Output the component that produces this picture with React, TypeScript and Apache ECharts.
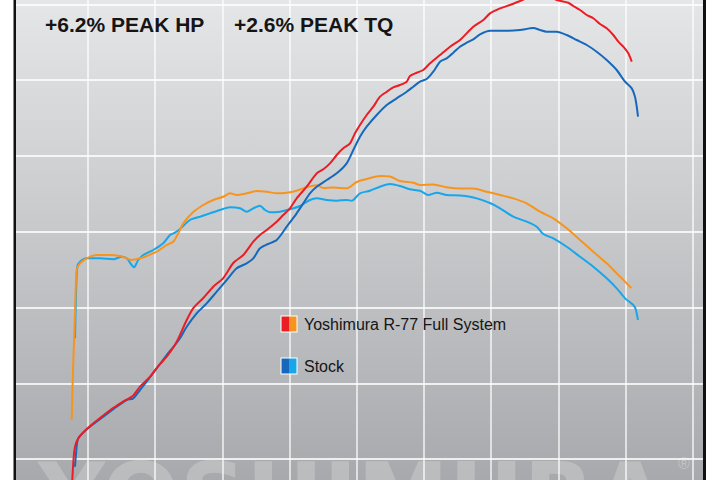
import React, { useEffect, useRef } from "react";
import * as echarts from "echarts";

// ---- data (x: engine rpm, y: output on a common dyno scale) ----
const yoshiHpRpm = [2762, 2784, 2807, 2856, 2981, 3179, 3372, 3521, 3670, 3774, 3923, 4022, 4171, 4320, 4469, 4567, 4716, 4864, 5013, 5162, 5311, 5460, 5559, 5659, 5808, 5906, 6006, 6105, 6254, 6403, 6501, 6601, 6701, 6799, 6899, 6973, 7047, 7147, 7245, 7345, 7445, 7543, 7643, 7742, 7791, 7891, 7989, 8089, 8238, 8387, 8535, 8733, 8882, 8982, 9131, 9279, 9428, 9577, 9726, 9875, 9974, 10147, 10221, 10321, 10421, 10519, 10619, 10718, 10816, 10891, 10965, 11040, 11091];
const yoshiHp = [-7.13, -0.26, 3.25, 5.46, 7.92, 10.82, 13.46, 15.13, 16.71, 19.09, 21.73, 24.02, 27.01, 30.97, 36.7, 39.86, 42.5, 45.49, 47.78, 51.74, 53.86, 57.37, 59.14, 60.46, 62.65, 64.42, 66.18, 68.82, 71.89, 75.42, 76.48, 78.06, 80.26, 82.02, 83.34, 85.98, 88.18, 90.82, 93.01, 95.65, 96.97, 98.13, 98.74, 99.61, 101.11, 101.98, 102.7, 104.46, 106.66, 108.85, 110.62, 114.13, 115.9, 117.66, 118.98, 119.86, 120.91, 121.97, 122.5, 121.97, 121.18, 120.46, 119.59, 118.54, 117.22, 116.35, 114.84, 113.7, 111.94, 110.17, 108.85, 107.1, 104.89];

const stockHpRpm = [2807, 2821, 2856, 3030, 3228, 3427, 3576, 3674, 3774, 3873, 4022, 4171, 4295, 4369, 4469, 4617, 4766, 4915, 5064, 5213, 5361, 5460, 5559, 5678, 5808, 5957, 6105, 6204, 6303, 6403, 6552, 6701, 6849, 6948, 7047, 7147, 7296, 7445, 7593, 7742, 7840, 7940, 8040, 8138, 8238, 8337, 8436, 8535, 8635, 8733, 8833, 8982, 9230, 9428, 9626, 9726, 9825, 9974, 10123, 10272, 10421, 10569, 10718, 10867, 10991, 11091, 11139, 11165, 11184];
const stockHp = [-2.03, 1.06, 5.46, 8.53, 11.17, 13.81, 15.58, 16.02, 18.22, 20.41, 23.94, 27.46, 30.1, 31.86, 34.93, 38.46, 41.1, 44.17, 47.26, 50.34, 51.66, 52.98, 55.62, 56.76, 57.82, 61.33, 64.86, 67.5, 70.14, 71.89, 73.66, 75.42, 78.06, 81.58, 85.09, 87.73, 90.82, 93.46, 95.22, 96.97, 98.29, 99.61, 100.32, 102.25, 104.89, 105.78, 107.26, 108.85, 109.9, 110.8, 112.12, 113.07, 113.07, 113.26, 113.78, 113.26, 112.81, 112.81, 111.94, 110.62, 109.3, 107.53, 105.34, 102.7, 99.61, 97.86, 95.65, 93.01, 90.37];

const yoshiTqRpm = [2757, 2769, 2781, 2807, 2832, 2881, 2981, 3129, 3327, 3476, 3576, 3650, 3774, 3873, 4022, 4171, 4269, 4344, 4418, 4567, 4716, 4864, 5013, 5113, 5213, 5361, 5510, 5659, 5808, 5957, 6105, 6254, 6403, 6501, 6650, 6849, 6998, 7147, 7345, 7494, 7643, 7840, 7940, 8138, 8337, 8535, 8733, 8933, 9131, 9328, 9528, 9726, 9924, 10123, 10321, 10519, 10718, 10867, 11016, 11084];
const yoshiTq = [10.3, 18.22, 25.34, 38.54, 49.9, 51.66, 52.98, 53.86, 53.86, 53.59, 52.98, 52.54, 52.98, 53.59, 54.73, 56.5, 57.37, 59.58, 62.22, 65.21, 67.06, 68.38, 69.25, 70.14, 69.7, 70.14, 70.75, 70.57, 70.14, 70.3, 70.83, 71.73, 72.26, 71.54, 71.68, 71.46, 73.13, 73.92, 74.71, 74.58, 73.39, 72.94, 72.34, 72.47, 71.73, 71.41, 71.41, 70.57, 69.7, 68.82, 67.5, 65.29, 63.54, 60.9, 57.82, 54.73, 51.66, 49.02, 46.38, 45.14];

const stockTqRpm = [2807, 2821, 2841, 2881, 2981, 3179, 3376, 3501, 3576, 3650, 3684, 3748, 3823, 3972, 4120, 4220, 4295, 4369, 4518, 4667, 4815, 4964, 5113, 5262, 5361, 5460, 5559, 5634, 5708, 5857, 6006, 6155, 6303, 6403, 6552, 6701, 6849, 6924, 7047, 7196, 7345, 7494, 7643, 7791, 7940, 8064, 8189, 8337, 8535, 8684, 8784, 8982, 9131, 9328, 9528, 9677, 9775, 9924, 10123, 10321, 10519, 10718, 10867, 10991, 11114, 11154, 11184];
const stockTq = [31.86, 42.85, 50.77, 52.09, 52.98, 52.98, 52.72, 53.41, 52.98, 51.22, 50.61, 52.54, 53.86, 55.18, 56.94, 59.14, 59.74, 60.72, 63.1, 63.97, 64.86, 65.74, 66.45, 66.18, 65.29, 66.18, 66.87, 65.74, 65.13, 65.29, 65.92, 66.79, 68.38, 68.82, 68.38, 68.19, 68.38, 68.19, 70.14, 70.83, 71.89, 72.6, 72.07, 71.2, 70.83, 69.7, 70.3, 69.7, 69.56, 69.25, 68.82, 67.58, 66.18, 63.97, 62.65, 61.33, 59.4, 58.26, 56.05, 53.41, 50.77, 47.7, 45.06, 42.42, 40.66, 39.34, 36.7];

const gridRpm = [3000, 4000, 5000, 6000, 7000, 8000, 9000, 10000, 11000, 12000];
const gridLevels = [0, 20, 40, 60, 80, 100, 120];

const peakLabels = ["+6.2% PEAK HP", "+2.6% PEAK TQ"];
const legendLabels = ["Yoshimura R-77 Full System", "Stock"];
const watermark = "YOSHIMURA";

const RED = "#ec1c24";
const ORANGE = "#f7941d";
const DARK_BLUE = "#1668bd";
const LIGHT_BLUE = "#17a6ea";

const pair = (xs: number[], ys: number[]) => xs.map((x, i) => [x, ys[i]]);

const lineSeries = (name: string, xs: number[], ys: number[], color: string, z: number) => ({
  name,
  type: "line",
  data: pair(xs, ys),
  showSymbol: false,
  symbol: "none",
  smooth: 0.25,
  clip: true,
  z,
  silent: true,
  lineStyle: { color, width: 2 },
  itemStyle: { color },
});

export default function App() {
  const ref = useRef<HTMLDivElement>(null);
  useEffect(() => {
    const chart = echarts.init(ref.current!, null, { renderer: "svg" });
    const vLine = { color: "rgba(255,255,255,0.85)", width: 1.5, type: "solid" };
    const hLine = { color: "rgba(255,255,255,0.8)", width: 2, type: "solid" };
    const option: any = {
      animation: false,
      backgroundColor: "#ffffff",
      grid: {
        left: 16,
        right: 17,
        top: 0,
        bottom: 0,
        show: true,
        borderWidth: 0,
        backgroundColor: {
          type: "linear",
          x: 0,
          y: 0,
          x2: 0,
          y2: 1,
          colorStops: [
            { offset: 0, color: "#e5e6e8" },
            { offset: 1, color: "#a8a9ac" },
          ],
        },
      },
      xAxis: { type: "value", min: 1929, max: 12151, show: false },
      yAxis: { type: "value", min: -5.54, max: 121.18, show: false },
      series: [
        {
          type: "line",
          data: [],
          silent: true,
          z: 1,
          markLine: {
            silent: true,
            symbol: "none",
            z: 1,
            animation: false,
            label: { show: false },
            emphasis: { disabled: true },
            data: [
              ...gridRpm.map((v) => ({ xAxis: v, lineStyle: vLine })),
              ...gridLevels.map((v) => ({ yAxis: v, lineStyle: hLine })),
            ],
          },
        },
        lineSeries("Stock TQ", stockTqRpm, stockTq, LIGHT_BLUE, 3),
        lineSeries("Yoshimura TQ", yoshiTqRpm, yoshiTq, ORANGE, 4),
        lineSeries("Stock HP", stockHpRpm, stockHp, DARK_BLUE, 5),
        lineSeries("Yoshimura HP", yoshiHpRpm, yoshiHp, RED, 6),
      ],
      graphic: [
        {
          type: "text",
          z: 1,
          silent: true,
          x: 352,
          y: 497,
          style: {
            text: watermark,
            fill: "rgba(255,255,255,0.22)",
            font: "bold 92px 'DejaVu Sans'",
            align: "center",
            verticalAlign: "middle",
          },
        },
        {
          type: "text",
          z: 1,
          silent: true,
          x: 684,
          y: 463,
          style: {
            text: "®",
            fill: "rgba(255,255,255,0.3)",
            font: "16px 'Liberation Sans'",
            align: "center",
            verticalAlign: "middle",
          },
        },
        { type: "rect", z: 20, silent: true, shape: { x: 13.5, y: 0, width: 2.5, height: 480 }, style: { fill: "#111" } },
        { type: "rect", z: 20, silent: true, shape: { x: 703, y: 0, width: 3, height: 480 }, style: { fill: "#111" } },
        {
          type: "text",
          z: 20,
          x: 45,
          y: 24,
          style: { text: peakLabels[0], fill: "#151515", font: "bold 21px 'Liberation Sans'", verticalAlign: "middle" },
        },
        {
          type: "text",
          z: 20,
          x: 234,
          y: 24,
          style: { text: peakLabels[1], fill: "#151515", font: "bold 21px 'Liberation Sans'", verticalAlign: "middle" },
        },
        // legend
        { type: "rect", z: 20, shape: { x: 280.5, y: 315.5, width: 17, height: 17 }, style: { fill: "#ffffff" } },
        { type: "rect", z: 21, shape: { x: 281.5, y: 316.5, width: 7.5, height: 15 }, style: { fill: RED } },
        { type: "rect", z: 21, shape: { x: 289, y: 316.5, width: 7.5, height: 15 }, style: { fill: ORANGE } },
        {
          type: "text",
          z: 20,
          x: 304,
          y: 324.5,
          style: { text: legendLabels[0], fill: "#151515", font: "16px 'Liberation Sans'", verticalAlign: "middle" },
        },
        { type: "rect", z: 20, shape: { x: 280.5, y: 357.5, width: 17, height: 17 }, style: { fill: "#ffffff" } },
        { type: "rect", z: 21, shape: { x: 281.5, y: 358.5, width: 7.5, height: 15 }, style: { fill: DARK_BLUE } },
        { type: "rect", z: 21, shape: { x: 289, y: 358.5, width: 7.5, height: 15 }, style: { fill: LIGHT_BLUE } },
        {
          type: "text",
          z: 20,
          x: 304,
          y: 366.5,
          style: { text: legendLabels[1], fill: "#151515", font: "16px 'Liberation Sans'", verticalAlign: "middle" },
        },
      ],
    };
    chart.setOption(option);
    return () => chart.dispose();
  }, []);
  return <div ref={ref} style={{ position: "absolute", left: 0, top: 0, width: 720, height: 480 }} />;
}
